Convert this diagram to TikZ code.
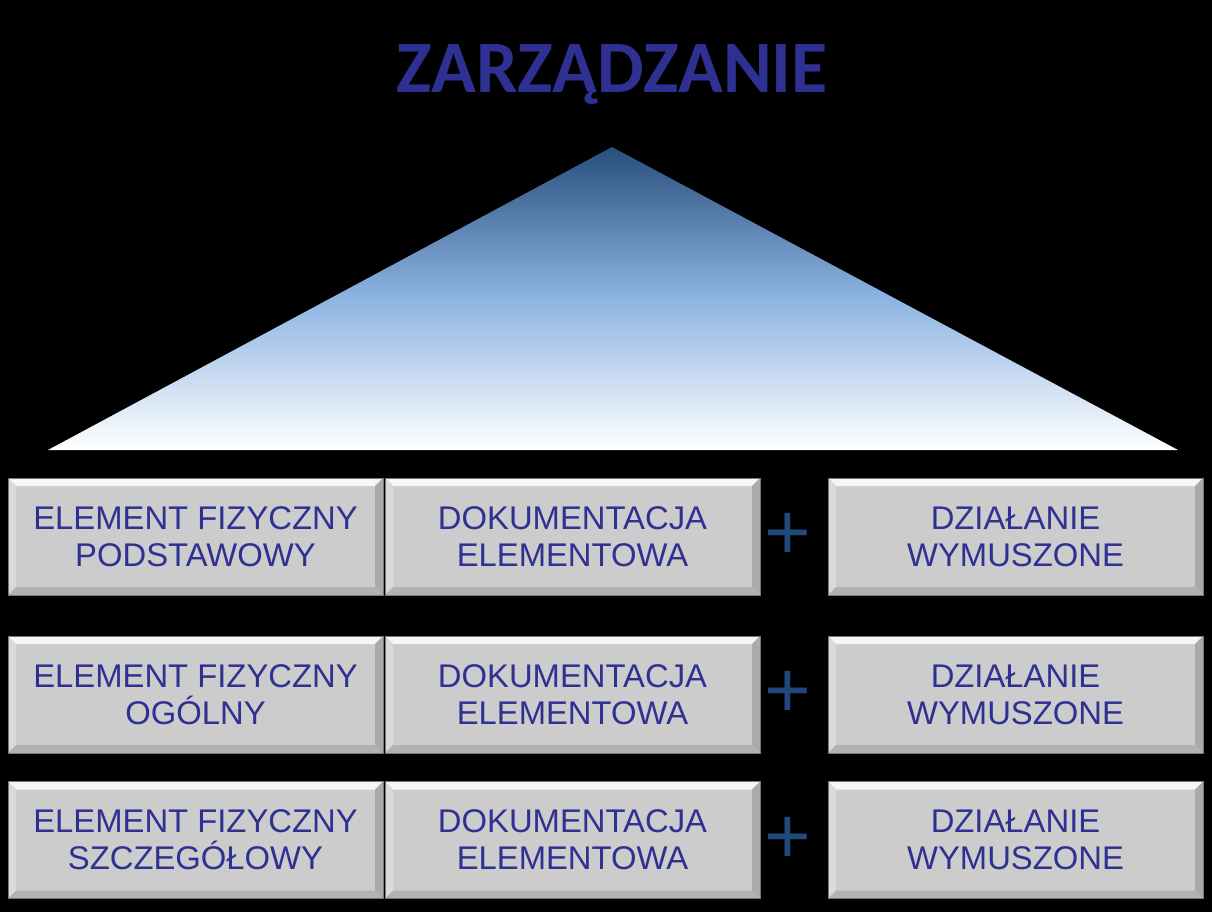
\documentclass[tikz,border=0pt]{standalone}
\usepackage{fontspec}
\setmainfont{Liberation Sans}
\newfontfamily\titlefont{Carlito}
\usetikzlibrary{calc}
\definecolor{txtblue}{RGB}{46,49,146}
\definecolor{plusblue}{RGB}{31,73,125}
\definecolor{tdark}{RGB}{40,78,124}
\definecolor{tlight}{RGB}{141,180,226}
\definecolor{boxgray}{RGB}{204,204,204}
\definecolor{bevtop}{RGB}{246,246,246}
\definecolor{bevleft}{RGB}{218,218,218}
\definecolor{bevright}{RGB}{170,170,170}
\definecolor{bevbot}{RGB}{178,178,178}
\definecolor{boxline}{RGB}{120,120,120}
\tikzset{
  bevelbox/.style={
    minimum width=375pt, minimum height=117pt, inner sep=0pt,
    fill=boxgray, draw=boxline, line width=0.8pt,
    align=center, text=txtblue,
    font=\fontsize{32.8}{37}\selectfont,
    path picture={
      \coordinate (nw) at (path picture bounding box.north west);
      \coordinate (ne) at (path picture bounding box.north east);
      \coordinate (sw) at (path picture bounding box.south west);
      \coordinate (se) at (path picture bounding box.south east);
      \fill[bevtop] (nw) -- (ne) -- ([xshift=-8pt,yshift=-8pt]ne) -- ([xshift=8pt,yshift=-8pt]nw) -- cycle;
      \fill[bevleft] (nw) -- ([xshift=8pt,yshift=-8pt]nw) -- ([xshift=8pt,yshift=8pt]sw) -- (sw) -- cycle;
      \fill[bevright] (ne) -- ([xshift=-8pt,yshift=-8pt]ne) -- ([xshift=-8pt,yshift=8pt]se) -- (se) -- cycle;
      \fill[bevbot] (sw) -- ([xshift=8pt,yshift=8pt]sw) -- ([xshift=-8pt,yshift=8pt]se) -- (se) -- cycle;
    }
  },
  plussign/.style={text=plusblue, inner sep=0pt, font=\fontsize{80}{80}\selectfont},
  titletext/.style={text=txtblue, inner sep=0pt, font=\titlefont\bfseries\fontsize{74}{74}\selectfont}
}
\begin{document}
\begin{tikzpicture}[x=1pt,y=-1pt]
\fill[black] (0,0) rectangle (1212,912);
\useasboundingbox (0,0) rectangle (1212,912);
% title
\node[titletext, anchor=base] (title) at (612,93) {ZARZĄDZANIE};
% triangle
\path[top color=tdark, bottom color=white, middle color=tlight] (612,147) -- (1178,450) -- (48,450) -- cycle;
\coordinate (apex) at (612,147);
% rows
\node[bevelbox] (a1) at (195.5,536.5) {ELEMENT FIZYCZNY\\PODSTAWOWY};
\node[bevelbox] (b1) at (572.5,536.5) {DOKUMENTACJA\\ELEMENTOWA};
\node[bevelbox] (c1) at (1015.5,536.5) {DZIAŁANIE\\WYMUSZONE};
\node[bevelbox] (a2) at (195.5,694.5) {ELEMENT FIZYCZNY\\OGÓLNY};
\node[bevelbox] (b2) at (572.5,694.5) {DOKUMENTACJA\\ELEMENTOWA};
\node[bevelbox] (c2) at (1015.5,694.5) {DZIAŁANIE\\WYMUSZONE};
\node[bevelbox] (a3) at (195.5,840) {ELEMENT FIZYCZNY\\SZCZEGÓŁOWY};
\node[bevelbox] (b3) at (572.5,840) {DOKUMENTACJA\\ELEMENTOWA};
\node[bevelbox] (c3) at (1015.5,840) {DZIAŁANIE\\WYMUSZONE};
% plus signs
\node[plussign] (p1) at (788,536.5) {+};
\node[plussign] (p2) at (788,694.5) {+};
\node[plussign] (p3) at (788,840) {+};
\end{tikzpicture}
\end{document}
